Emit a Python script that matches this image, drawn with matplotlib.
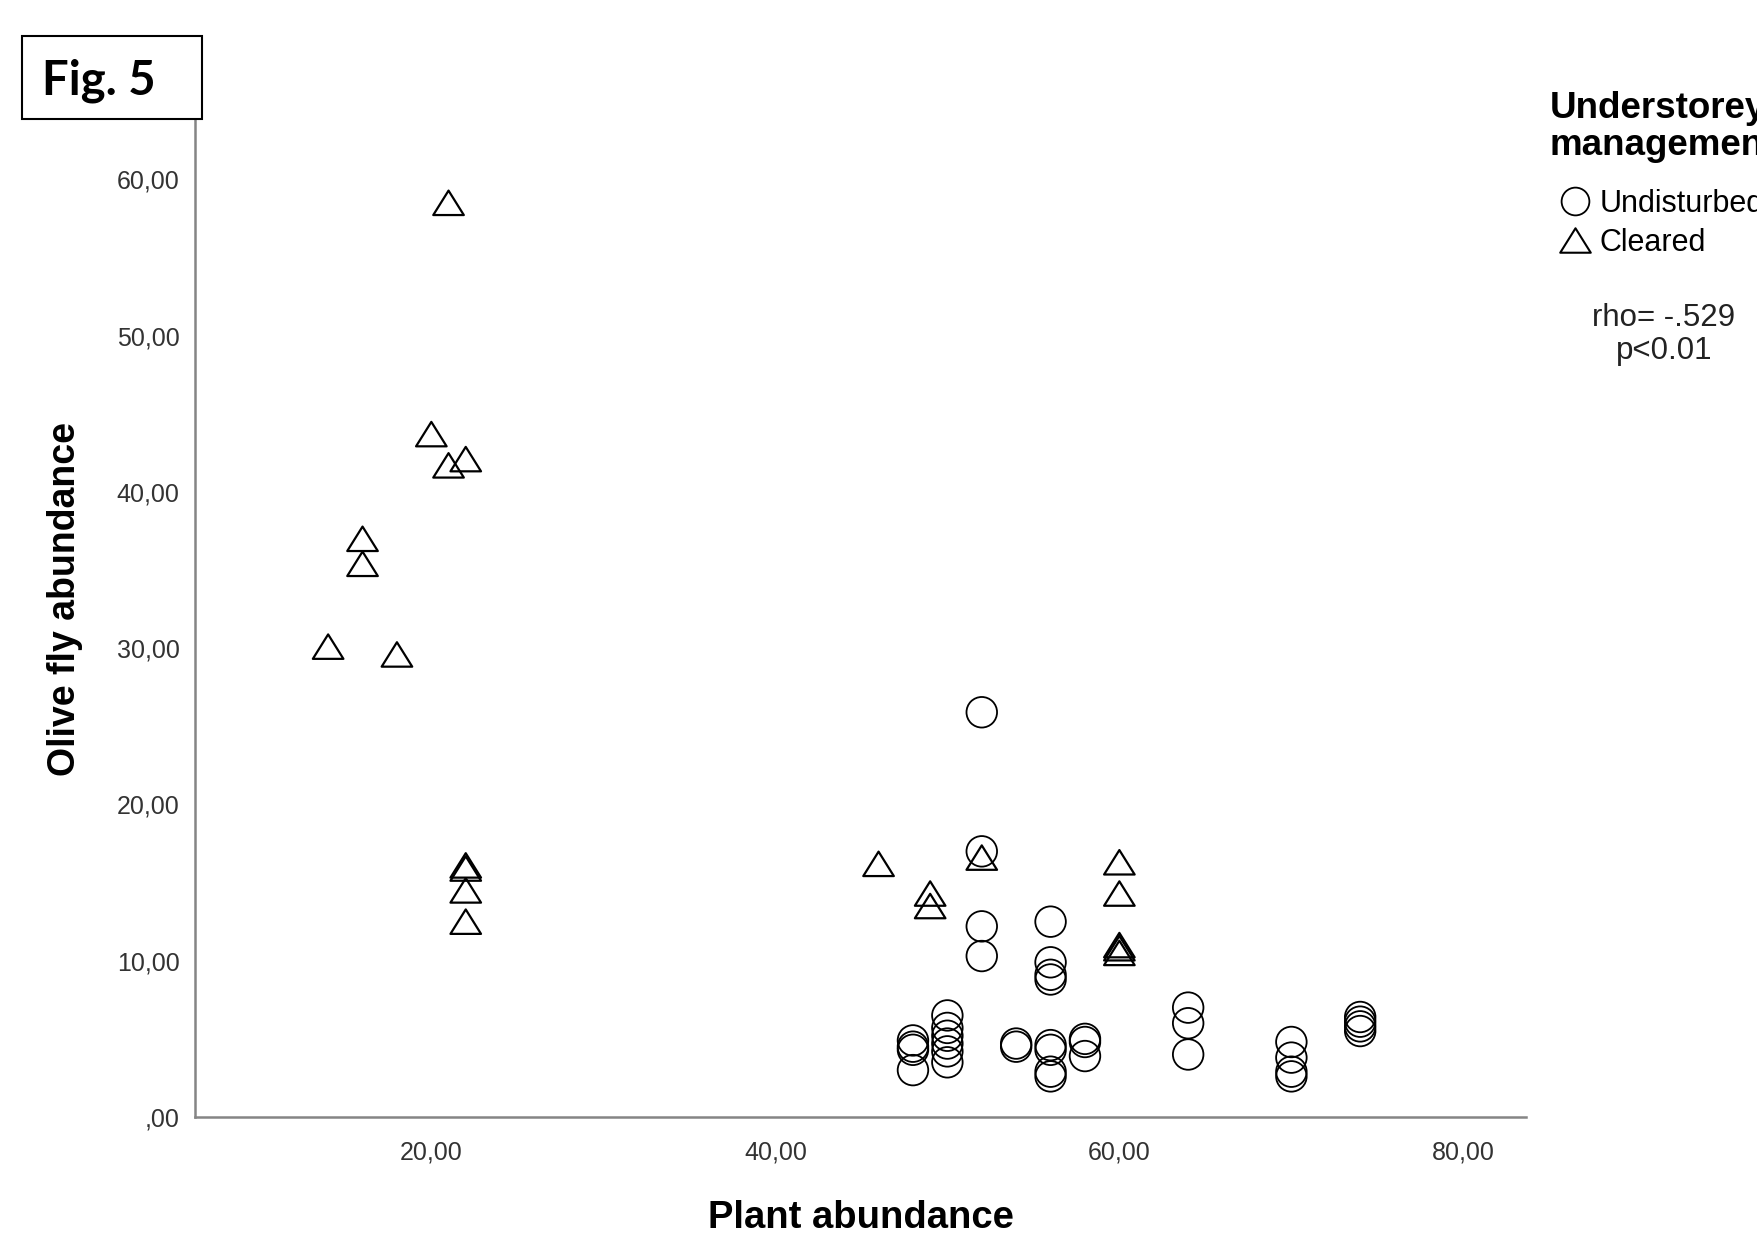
import matplotlib
matplotlib.use("Agg")
import matplotlib.pyplot as plt
from matplotlib.lines import Line2D
from matplotlib.patches import Rectangle
from matplotlib.path import Path

plt.rcParams["font.family"] = ["Liberation Sans", "DejaVu Sans"]

# Undisturbed understorey (circles)
undisturbed_x = [52, 52, 52, 52,
                 56, 56, 56, 56,
                 48, 48, 48, 48,
                 50, 50, 50, 50, 50, 50,
                 54, 54,
                 56, 56, 56, 56,
                 58, 58, 58,
                 64, 64, 64,
                 70, 70, 70, 70,
                 74, 74, 74, 74]
undisturbed_y = [25.9, 17.0, 12.2, 10.3,
                 12.5, 9.9, 9.1, 8.8,
                 4.9, 4.5, 4.3, 3.0,
                 6.5, 5.7, 5.2, 4.7, 4.2, 3.5,
                 4.7, 4.5,
                 4.6, 4.3, 2.9, 2.6,
                 5.0, 4.8, 3.9,
                 7.0, 6.0, 4.0,
                 4.8, 3.8, 2.9, 2.6,
                 6.4, 6.1, 5.8, 5.5]

# Cleared understorey (triangles)
cleared_x = [21, 20, 21, 22, 16, 16, 14, 18,
             22, 22, 22, 22,
             46, 49, 49, 52,
             60, 60, 60, 60, 60]
cleared_y = [58.5, 43.7, 41.7, 42.1, 37.0, 35.4, 30.1, 29.6,
             16.1, 15.9, 14.5, 12.5,
             16.2, 14.3, 13.5, 16.6,
             16.3, 14.3, 11.0, 10.8, 10.5]

x_ticks = [20, 40, 60, 80]
y_ticks = [0, 10, 20, 30, 40, 50, 60]


def comma_label(v):
    s = f"{v:.2f}".replace(".", ",")
    return s[1:] if s.startswith("0,") else s


tri = Path([(-1, -0.8), (1, -0.8), (0, 0.8), (-1, -0.8)],
           [Path.MOVETO, Path.LINETO, Path.LINETO, Path.CLOSEPOLY])

W, H = 1757, 1240
fig = plt.figure(figsize=(W / 100, H / 100), dpi=100)
ax = fig.add_axes([195 / W, 1 - 1117 / H, (1526 - 195) / W, (1117 - 120) / H])

ax.scatter(undisturbed_x, undisturbed_y, s=22 ** 2, marker="o",
           facecolors="none", edgecolors="black", linewidths=1.3, zorder=3)
ax.scatter(cleared_x, cleared_y, s=22 ** 2, marker=tri,
           facecolors="none", edgecolors="black", linewidths=1.6, zorder=3)

ax.set_xlim(6.26, 83.64)
ax.set_ylim(0, 63.8)
ax.set_xticks(x_ticks)
ax.set_xticklabels([comma_label(v) for v in x_ticks])
ax.set_yticks(y_ticks)
ax.set_yticklabels([comma_label(v) for v in y_ticks])
ax.tick_params(length=0, labelsize=18, labelcolor="#333333")
ax.tick_params(axis="x", pad=17)
ax.tick_params(axis="y", pad=11)

for side in ["top", "right"]:
    ax.spines[side].set_visible(False)
for side in ["left", "bottom"]:
    ax.spines[side].set_color("#858585")
    ax.spines[side].set_linewidth(1.8)

ax.set_xlabel("Plant abundance", fontsize=27.5, fontweight="bold", va="center")
ax.xaxis.set_label_coords(0.5004, -0.1015)
ax.set_ylabel("Olive fly abundance", fontsize=27, fontweight="bold", va="center")
ax.yaxis.set_label_coords(-0.0977, 0.52)

# legend, cut at the right edge as in the original
fig.text(1550 / W, 1 - 127 / H, "Understorey\nmanagement", fontsize=26.5,
         fontweight="bold", ha="left", va="center", linespacing=1.05)
handles = [
    Line2D([], [], marker="o", linestyle="none", markersize=20,
           markerfacecolor="none", markeredgecolor="black", markeredgewidth=1.3),
    Line2D([], [], marker=tri, linestyle="none", markersize=22,
           markerfacecolor="none", markeredgecolor="black", markeredgewidth=1.5),
]
fig.legend(handles, ["Undisturbed", "Cleared"], loc="upper left",
           bbox_to_anchor=(1560 / W, 1 - 189 / H), frameon=False,
           fontsize=22, handlelength=1.0, handletextpad=0.3,
           labelspacing=0.3, borderpad=0, borderaxespad=0)

fig.text(1664 / W, 1 - 318 / H, "rho= -.529", fontsize=22.5, ha="center",
         va="center", color="#222222")
fig.text(1664 / W, 1 - 351 / H, "p<0.01", fontsize=22.5, ha="center",
         va="center", color="#222222")

# "Fig. 5" box
fig.patches.append(Rectangle((22 / W, 1 - 119 / H), 180 / W, 83 / H,
                             transform=fig.transFigure, facecolor="white",
                             edgecolor="black", linewidth=1.5, zorder=5))
fig.text(99 / W, 1 - 81 / H, "Fig. 5", fontsize=34, fontweight="bold",
         family=["Lato", "DejaVu Sans"], ha="center", va="center", zorder=6)

fig.savefig("out.png", dpi=100)
